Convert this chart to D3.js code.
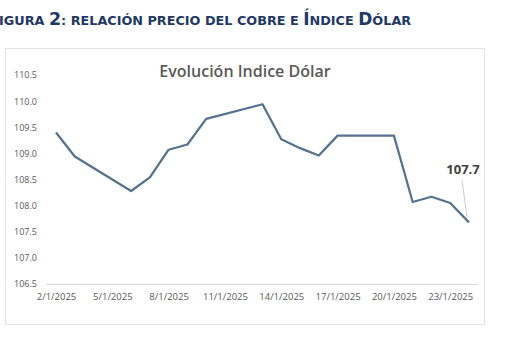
<!DOCTYPE html>
<html>
<head>
<meta charset="utf-8">
<script src="https://cdn.jsdelivr.net/npm/d3@7"></script>
<style>
  html, body { margin: 0; padding: 0; background: #fff; }
  svg { display: block; }
</style>
</head>
<body>
<div id="chart"></div>
<script>
// trading days (d/m/yyyy) and dollar index closes
var dates = ["2/1/2025", "3/1/2025", "6/1/2025", "7/1/2025", "8/1/2025", "9/1/2025",
	"10/1/2025", "13/1/2025", "14/1/2025", "15/1/2025", "16/1/2025", "17/1/2025",
	"20/1/2025", "21/1/2025", "22/1/2025", "23/1/2025", "24/1/2025"];
var values = [109.4, 108.94, 108.28, 108.54, 109.07, 109.17,
	109.66, 109.94, 109.27, 109.1, 108.96, 109.34,
	109.34, 108.07, 108.17, 108.05, 107.68];
var xTickLabels = ["2/1/2025", "5/1/2025", "8/1/2025", "11/1/2025", "14/1/2025",
	"17/1/2025", "20/1/2025", "23/1/2025"];
var yTicks = [106.5, 107.0, 107.5, 108.0, 108.5, 109.0, 109.5, 110.0, 110.5];
var lastLabel = "107.7";

var W = 510, H = 352;
var parse = d3.utcParse("%d/%m/%Y");
var data = dates.map(function (d, i) { return { date: parse(d), value: values[i] }; });

var svg = d3.select("#chart").append("svg")
	.attr("width", W)
	.attr("height", H);

// figure caption (small caps done by hand, the "F" is cut off in the source)
var cap = svg.append("text")
	.attr("x", -1)
	.attr("y", 25)
	.attr("fill", "#1f3864")
	.attr("font-family", "DejaVu Sans, Verdana, sans-serif")
	.attr("font-weight", "bold")
	.attr("font-size", 12.8);
[["IGURA ", 12.8], ["2", 17.5], [": RELACIÓN PRECIO DEL COBRE E ", 12.8], ["Í", 17],
	["NDICE ", 12.8], ["D", 17], ["ÓLAR", 12.8]].forEach(function (p) {
	cap.append("tspan").attr("font-size", p[1]).text(p[0]);
});

// chart frame
svg.append("rect")
	.attr("x", 5.5)
	.attr("y", 48.5)
	.attr("width", 479)
	.attr("height", 276)
	.attr("fill", "#fff")
	.attr("stroke", "#e3e3e3");

svg.append("text")
	.attr("x", 245)
	.attr("y", 77)
	.attr("text-anchor", "middle")
	.attr("fill", "#595959")
	.attr("font-family", "Open Sans, sans-serif")
	.attr("font-weight", 600)
	.attr("font-size", 16)
	.text("Evolución Indice Dólar");

var x = d3.scaleUtc()
	.domain([parse(dates[0]), parse(dates[dates.length - 1])])
	.range([56, 469]);
var y = d3.scaleLinear()
	.domain([106.5, 110.5])
	.range([284, 75]);

// x axis
var xAxis = d3.axisBottom(x)
	.tickValues(xTickLabels.map(parse))
	.tickFormat(d3.utcFormat("%-d/%-m/%Y"))
	.tickSize(0)
	.tickPadding(9);
var gx = svg.append("g")
	.attr("transform", "translate(0,284)")
	.call(xAxis);
gx.select(".domain")
	.attr("d", "M46,0.5H478")
	.attr("stroke", "#d9d9d9");
gx.selectAll("text")
	.attr("fill", "#595959")
	.attr("font-family", "Open Sans, sans-serif")
	.attr("font-size", 9.5);

// y axis
var yAxis = d3.axisLeft(y)
	.tickValues(yTicks)
	.tickFormat(d3.format(".1f"))
	.tickSize(0)
	.tickPadding(0);
var gy = svg.append("g")
	.attr("transform", "translate(37,0)")
	.call(yAxis);
gy.select(".domain").remove();
gy.selectAll("text")
	.attr("fill", "#595959")
	.attr("font-family", "Open Sans, sans-serif")
	.attr("font-size", 9);

// series line
var line = d3.line()
	.x(function (d) { return x(d.date); })
	.y(function (d) { return y(d.value); });

svg.append("path")
	.datum(data)
	.attr("fill", "none")
	.attr("stroke", "#55728f")
	.attr("stroke-width", 2.25)
	.attr("stroke-linejoin", "round")
	.attr("d", line);

// last value callout
var last = data[data.length - 1];
var lx = x(last.date), ly = y(last.value);
svg.append("line")
	.attr("x1", lx - 7)
	.attr("y1", ly - 42)
	.attr("x2", lx - 2)
	.attr("y2", ly - 5)
	.attr("stroke", "#bfbfbf")
	.attr("stroke-width", 0.8);
svg.append("text")
	.attr("x", lx - 6)
	.attr("y", ly - 48)
	.attr("text-anchor", "middle")
	.attr("fill", "#404040")
	.attr("font-family", "Open Sans, sans-serif")
	.attr("font-weight", "bold")
	.attr("font-size", 13)
	.text(lastLabel);
</script>
</body>
</html>
